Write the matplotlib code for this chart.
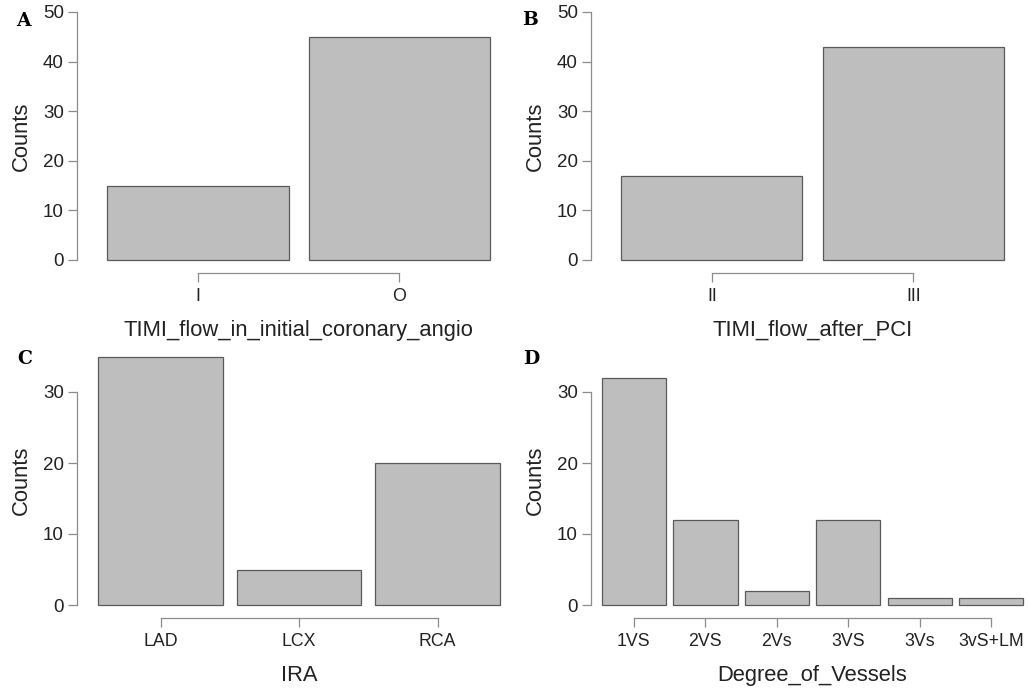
import matplotlib
matplotlib.use("Agg")
import matplotlib.pyplot as plt

plt.rcParams["font.family"] = ["Liberation Sans", "DejaVu Sans"]

# ---------------------------------------------------------------------------
# Data
# ---------------------------------------------------------------------------
timi_initial_cats = ["I", "O"]
timi_initial_counts = [15, 45]

timi_after_cats = ["II", "III"]
timi_after_counts = [17, 43]

ira_cats = ["LAD", "LCX", "RCA"]
ira_counts = [35, 5, 20]

vessel_cats = ["1VS", "2VS", "2Vs", "3VS", "3Vs", "3vS+LM"]
vessel_counts = [32, 12, 2, 12, 1, 1]

BAR_FILL = "#bebebe"
BAR_EDGE = "#5a5a5a"
AXIS_COL = "#8c8c8c"
TEXT_COL = "#222222"

W, H = 1028, 690
fig = plt.figure(figsize=(W / 100, H / 100), dpi=100)


def add_px_axes(l, r, t, b):
    return fig.add_axes([l / W, 1 - b / H, (r - l) / W, (b - t) / H])


def panel(box, cats, counts, xlabel, xlim, ylim, ybounds, yticks, letter, letter_xy):
    ax = add_px_axes(*box)
    x = list(range(len(cats)))
    ax.bar(x, counts, width=0.9, color=BAR_FILL, edgecolor=BAR_EDGE,
           linewidth=0.9, clip_on=False)
    ax.set_xlim(*xlim)
    ax.set_ylim(*ylim)

    for s in ["top", "right"]:
        ax.spines[s].set_visible(False)
    ax.spines["left"].set_bounds(*ybounds)
    ax.spines["bottom"].set_bounds(0, len(cats) - 1)
    ax.spines["bottom"].set_position(("outward", 9))
    for s in ["left", "bottom"]:
        ax.spines[s].set_color(AXIS_COL)
        ax.spines[s].set_linewidth(0.9)

    ax.set_yticks(yticks)
    ax.set_xticks(x)
    ax.set_xticklabels(cats)
    ax.tick_params(axis="both", colors=AXIS_COL, labelcolor=TEXT_COL,
                   length=6.5, width=0.9)
    ax.tick_params(axis="y", pad=3, labelsize=13.5)
    ax.tick_params(axis="x", pad=5, labelsize=12.8)

    ax.set_xlabel(xlabel, fontsize=15.8, color=TEXT_COL, labelpad=10.5)
    # x label sits under the middle of the category bracket
    mid = ((len(cats) - 1) / 2 - xlim[0]) / (xlim[1] - xlim[0])
    ax.xaxis.label.set_x(mid)
    ax.set_ylabel("Counts", fontsize=15.8, color=TEXT_COL, labelpad=8)

    fig.text(letter_xy[0] / W, 1 - letter_xy[1] / H, letter,
             fontfamily="DejaVu Serif", fontweight="bold", fontsize=13.5,
             ha="left", va="center")
    return ax


panel((77, 500, 12, 260), timi_initial_cats, timi_initial_counts,
      "TIMI_flow_in_initial_coronary_angio", (-0.6, 1.5), (0, 50), (0, 50),
      [0, 10, 20, 30, 40, 50], "A", (16, 21))
panel((591, 1014, 12, 260), timi_after_cats, timi_after_counts,
      "TIMI_flow_after_PCI", (-0.6, 1.5), (0, 50), (0, 50),
      [0, 10, 20, 30, 40, 50], "B", (522, 20))
panel((77, 507, 356.5, 605), ira_cats, ira_counts,
      "IRA", (-0.603, 2.5), (0, 35), (0, 30),
      [0, 10, 20, 30], "C", (17, 359))
panel((591, 1027, 356.5, 605), vessel_cats, vessel_counts,
      "Degree_of_Vessels", (-0.6, 5.5), (0, 35), (0, 30),
      [0, 10, 20, 30], "D", (523, 359))

fig.savefig("out.png", dpi=100)
